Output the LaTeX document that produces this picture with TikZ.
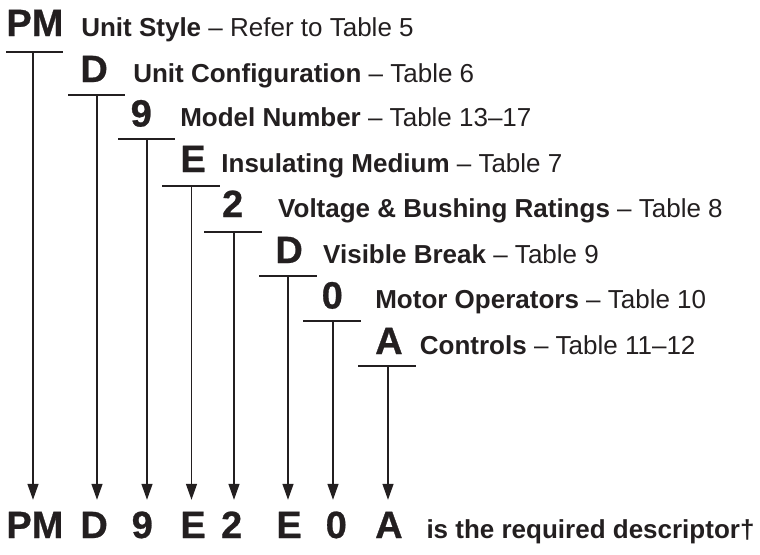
\documentclass[tikz,border=0pt]{standalone}
\usepackage{fontspec}
\setmainfont{Liberation Sans}
\newfontfamily\heavyfont[FakeBold=0.7]{Liberation Sans}
\usetikzlibrary{arrows.meta}
\definecolor{ink}{HTML}{231F20}
\tikzset{
  letter/.style={anchor=base west, inner sep=0pt, text=ink,
    font=\heavyfont\fontsize{38}{40}\selectfont\bfseries},
  desc/.style={anchor=base west, inner sep=0pt, text=ink,
    font=\fontsize{26}{28}\selectfont},
  code/.style={letter, text height=38pt, text depth=0pt},
  tail/.style={anchor=base west, inner sep=0pt, text=ink,
    font=\fontsize{26}{28}\selectfont\bfseries},
  bar/.style={draw=ink, line width=1.3pt},
  arr/.style={draw=ink, line width=1.3pt, -{Triangle[length=16pt,width=11pt]}}
}
\begin{document}
\begin{tikzpicture}[x=1pt,y=-1pt]
\useasboundingbox (0,0) rectangle (760,554);
% top letters and descriptions
\node[letter] (t1) at (6.2,36) {PM};
\node[desc]   (d1) at (81.1,36) {\textbf{Unit Style} – Refer to Table 5};
\node[letter] (t2) at (80.2,82) {D};
\node[desc]   (d2) at (133.1,82) {\textbf{Unit Configuration} – Table 6};
\node[letter] (t3) at (130.5,126.5) {9};
\node[desc]   (d3) at (180.1,126.5) {\textbf{Model Number} – Table 13–17};
\node[letter] (t4) at (180.2,172) {E};
\node[desc]   (d4) at (221.2,172) {\textbf{Insulating Medium} – Table 7};
\node[letter] (t5) at (221.9,217) {2};
\node[desc]   (d5) at (278,217) {\textbf{Voltage \& Bushing Ratings} – Table 8};
\node[letter] (t6) at (275.2,263) {D};
\node[desc]   (d6) at (323,263) {\textbf{Visible Break} – Table 9};
\node[letter] (t7) at (321.5,308.5) {0};
\node[desc]   (d7) at (375.1,308.5) {\textbf{Motor Operators} – Table 10};
\node[letter] (t8) at (375,354) {A};
\node[desc]   (d8) at (419.7,354) {\textbf{Controls} – Table 11–12};
% bottom descriptor
\node[code] (b1) at (6.2,538) {PM};
\node[code] (b2) at (80.2,538) {D};
\node[code] (b3) at (131.5,538) {9};
\node[code] (b4) at (180.2,538) {E};
\node[code] (b5) at (220.9,538) {2};
\node[code] (b6) at (276.2,538) {E};
\node[code] (b7) at (325.5,538) {0};
\node[code] (b8) at (375,538) {A};
\node[tail] (bt) at (426.3,538) {is the required descriptor†};
% bars and arrows
\foreach \i/\l/\r/\v/\y in {1/6/63/33/52, 2/68/125/97/95, 3/118/175/147/139,
    4/162/220/191.5/186, 5/204/262/234/232, 6/259/317/288/276,
    7/303/361/333/321, 8/358/416/388/366}{
  \coordinate (L\i) at (\l,\y);
  \coordinate (R\i) at (\r,\y);
  \coordinate (V\i) at (\v,\y);
  \draw[bar] (L\i) -- (R\i);
  \draw[arr] (V\i) -- (V\i |- b\i.north);
}
\end{tikzpicture}
\end{document}
